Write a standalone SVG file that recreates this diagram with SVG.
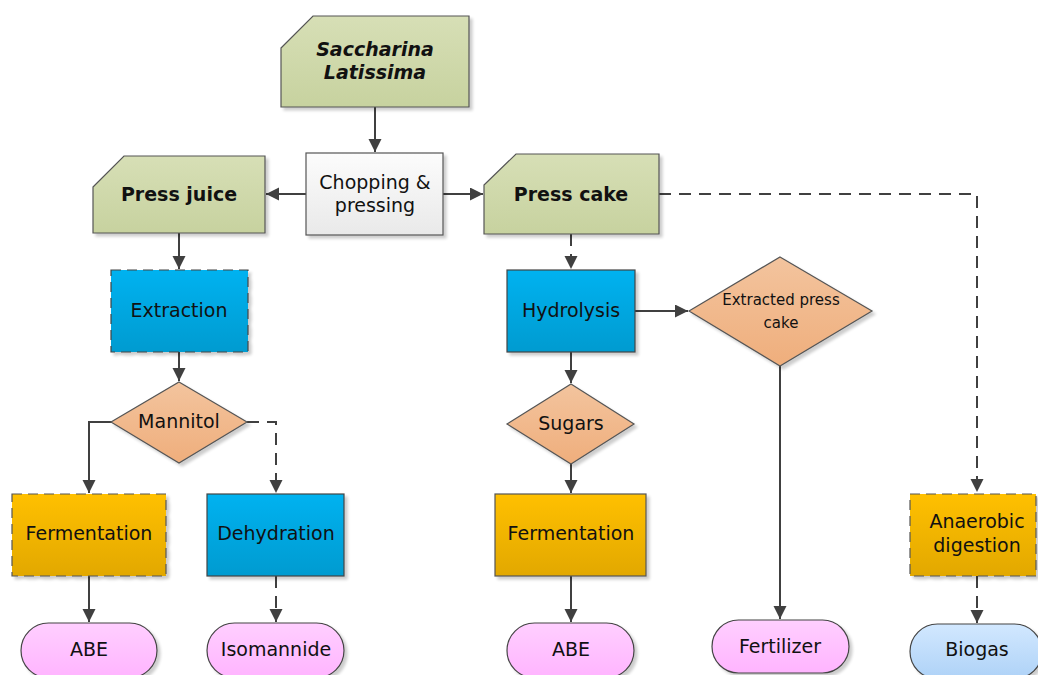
<svg xmlns="http://www.w3.org/2000/svg" width="1038" height="675" viewBox="0 0 1038 675">
<style>
text{font-family:"DejaVu Sans","Verdana",sans-serif;fill:#111;text-anchor:middle}
.t{font-size:19px}
.b{font-size:19px;font-weight:bold}
.bi{font-size:19px;font-weight:bold;font-style:italic}
.s{font-size:15px}
.g{fill:url(#gGreen);stroke:#555;stroke-width:1.2}
.w{fill:url(#gWhite);stroke:#555;stroke-width:1.2}
.bl{fill:url(#gBlue);stroke:#444;stroke-width:1.2}
.or{fill:url(#gOrange);stroke:#555;stroke-width:1.2}
.dm{fill:url(#gDiamond);stroke:#555;stroke-width:1.2}
.pk{fill:url(#gPink);stroke:#444;stroke-width:1.2}
.sk{fill:url(#gSky);stroke:#444;stroke-width:1.2}
.dash{stroke-dasharray:10,6}
.sh{filter:url(#shadow)}
.c{fill:none;stroke:#404040;stroke-width:2}
.cd{fill:none;stroke:#404040;stroke-width:2;stroke-dasharray:12,8}
</style>
<defs>
<linearGradient id="gGreen" x1="0" y1="0" x2="0" y2="1"><stop offset="0" stop-color="#d7dfb6"/><stop offset="1" stop-color="#c7d29f"/></linearGradient>
<linearGradient id="gWhite" x1="0" y1="0" x2="0" y2="1"><stop offset="0" stop-color="#fcfcfc"/><stop offset="1" stop-color="#e9e9e9"/></linearGradient>
<linearGradient id="gBlue" x1="0" y1="0" x2="0" y2="1"><stop offset="0" stop-color="#00b2f0"/><stop offset="1" stop-color="#009bd0"/></linearGradient>
<linearGradient id="gOrange" x1="0" y1="0" x2="0" y2="1"><stop offset="0" stop-color="#ffc000"/><stop offset="1" stop-color="#e2a800"/></linearGradient>
<linearGradient id="gDiamond" x1="0" y1="0" x2="0" y2="1"><stop offset="0" stop-color="#f3c49e"/><stop offset="1" stop-color="#efae7c"/></linearGradient>
<linearGradient id="gPink" x1="0" y1="0" x2="0" y2="1"><stop offset="0" stop-color="#ffcfff"/><stop offset="1" stop-color="#ffb4ff"/></linearGradient>
<linearGradient id="gSky" x1="0" y1="0" x2="0" y2="1"><stop offset="0" stop-color="#d2e8ff"/><stop offset="1" stop-color="#aed2f7"/></linearGradient>
<filter id="shadow" x="-10%" y="-10%" width="130%" height="130%">
<feGaussianBlur in="SourceAlpha" stdDeviation="1.5"/>
<feOffset dx="3" dy="3" result="o"/>
<feComponentTransfer><feFuncA type="linear" slope="0.2"/></feComponentTransfer>
<feMerge><feMergeNode/><feMergeNode in="SourceGraphic"/></feMerge>
</filter>
<marker id="arr" markerUnits="userSpaceOnUse" markerWidth="15" markerHeight="15" refX="13" refY="6.5" orient="auto">
<path d="M0,0 L13,6.5 L0,13 z" fill="#404040"/>
</marker>
</defs>
<rect width="1038" height="675" fill="#fff"/>

<g id="connectors">
<path class="c" d="M375,107 V152" marker-end="url(#arr)"/>
<path class="c" d="M306,194 H266" marker-end="url(#arr)"/>
<path class="c" d="M443,194 H483" marker-end="url(#arr)"/>
<path class="cd" d="M659,194 H977 V492" marker-end="url(#arr)"/>
<path class="c" d="M179,233 V269" marker-end="url(#arr)"/>
<path class="c" d="M179,352 V381" marker-end="url(#arr)"/>
<path class="c" d="M112,422 H89 V493" marker-end="url(#arr)"/>
<path class="cd" d="M247,422 H276 V493" marker-end="url(#arr)"/>
<path class="c" d="M89,576 V622" marker-end="url(#arr)"/>
<path class="cd" d="M276,576 V622" marker-end="url(#arr)"/>
<path class="cd" d="M571,234 V269" marker-end="url(#arr)"/>
<path class="c" d="M635,311 H688" marker-end="url(#arr)"/>
<path class="c" d="M571,352 V383" marker-end="url(#arr)"/>
<path class="c" d="M571,464 V493" marker-end="url(#arr)"/>
<path class="c" d="M780,366 V619" marker-end="url(#arr)"/>
<path class="c" d="M571,576 V622" marker-end="url(#arr)"/>
<path class="cd" d="M977,576 V623" marker-end="url(#arr)"/>
</g>

<g id="saccharina">
<path class="g sh" d="M281,48 L313,16 H469 V107 H281 Z"/>
<text class="bi" x="375" y="56">Saccharina</text>
<text class="bi" x="375" y="79">Latissima</text>
</g>
<g id="chopping">
<rect class="w sh" x="306" y="153" width="137" height="82"/>
<text class="t" x="375" y="189">Chopping &amp;</text>
<text class="t" x="375" y="212">pressing</text>
</g>
<g id="press-juice">
<path class="g sh" d="M93,187 L124,156 H265 V233 H93 Z"/>
<text class="b" x="179" y="201">Press juice</text>
</g>
<g id="press-cake">
<path class="g sh" d="M484,185 L516,154 H659 V234 H484 Z"/>
<text class="b" x="571" y="201">Press cake</text>
</g>
<g id="extraction">
<rect class="bl dash sh" x="111" y="270" width="137" height="82"/>
<text class="t" x="179" y="317">Extraction</text>
</g>
<g id="mannitol">
<path class="dm sh" d="M179,382 L247,422 L179,463 L111,422 Z"/>
<text class="t" x="179" y="428">Mannitol</text>
</g>
<g id="fermentation-1">
<rect class="or dash sh" x="12" y="494" width="154" height="82"/>
<text class="t" x="89" y="540">Fermentation</text>
</g>
<g id="dehydration">
<rect class="bl sh" x="207" y="494" width="137" height="82"/>
<text class="t" x="276" y="540">Dehydration</text>
</g>
<g id="abe-1">
<rect class="pk sh" x="21" y="623" width="136" height="55" rx="27.5"/>
<text class="t" x="89" y="656">ABE</text>
</g>
<g id="isomannide">
<rect class="pk sh" x="207" y="623" width="137" height="55" rx="27.5"/>
<text class="t" x="276" y="656">Isomannide</text>
</g>
<g id="hydrolysis">
<rect class="bl sh" x="507" y="270" width="128" height="82"/>
<text class="t" x="571" y="317">Hydrolysis</text>
</g>
<g id="extracted-press-cake">
<path class="dm sh" d="M780,257 L872,311 L780,366 L689,311 Z"/>
<text class="s" x="781" y="305">Extracted press</text>
<text class="s" x="781" y="328">cake</text>
</g>
<g id="sugars">
<path class="dm sh" d="M571,384 L634,424 L571,464 L507,424 Z"/>
<text class="t" x="571" y="430">Sugars</text>
</g>
<g id="fermentation-2">
<rect class="or sh" x="495" y="494" width="151" height="82"/>
<text class="t" x="571" y="540">Fermentation</text>
</g>
<g id="abe-2">
<rect class="pk sh" x="507" y="623" width="127" height="55" rx="27.5"/>
<text class="t" x="571" y="656">ABE</text>
</g>
<g id="fertilizer">
<rect class="pk sh" x="712" y="620" width="137" height="53" rx="26.5"/>
<text class="t" x="780" y="653">Fertilizer</text>
</g>
<g id="anaerobic-digestion">
<rect class="or dash sh" x="910" y="494" width="126" height="82"/>
<text class="t" x="977" y="528">Anaerobic</text>
<text class="t" x="977" y="552">digestion</text>
</g>
<g id="biogas">
<rect class="sk sh" x="910" y="624" width="132" height="55" rx="27.5"/>
<text class="t" x="977" y="656">Biogas</text>
</g>
</svg>
